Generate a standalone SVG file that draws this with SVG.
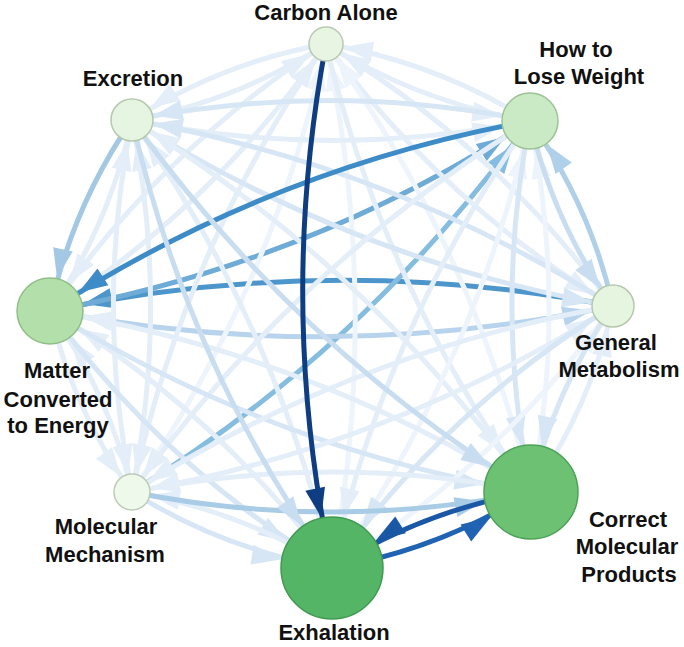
<svg xmlns="http://www.w3.org/2000/svg" xmlns:xlink="http://www.w3.org/1999/xlink" width="684" height="647" viewBox="0 0 684 647">
<style>
.e path{fill:none;stroke-width:5}
.q0 path{stroke:#eef4fb}.q0 use{fill:#eef4fb}
.q1 path{stroke:#e3eef8}.q1 use{fill:#e3eef8}
.q2 path{stroke:#d6e6f4}.q2 use{fill:#d6e6f4}
.q3 path{stroke:#c8ddf0}.q3 use{fill:#c8ddf0}
.cnavy path{stroke:#0f3d82}.cnavy use{fill:#0f3d82}
.cwd path{stroke:#3d8bc7}.cwd use{fill:#3d8bc7}
.ced path{stroke:#4d96cb}.ced use{fill:#4d96cb}
.cdw path{stroke:#6eabd7}.cdw use{fill:#6eabd7}
.cfw path{stroke:#85bde0}.cfw use{fill:#85bde0}
.cbd path{stroke:#a2c8e4}.cbd use{fill:#a2c8e4}
.cew path{stroke:#b0d0ea}.cew use{fill:#b0d0ea}
.cde path{stroke:#b8d4ec}.cde use{fill:#b8d4ec}
.cfh path{stroke:#a8cbe6}.cfh use{fill:#a8cbe6}
.cgh path{stroke:#2063b2}.cgh use{fill:#2063b2}
.chg path{stroke:#1a58a6}.chg use{fill:#1a58a6}
.nd{stroke-width:1.5}
.lb{font-family:"Liberation Sans",Arial,sans-serif;font-weight:bold;font-size:22px;fill:#111;text-anchor:middle}
</style>
<defs>
<polygon id="ah" points="0,0 -29,-10 -29,10"/>
</defs>
<rect width="684" height="647" fill="#ffffff"/>
<g id="connectors">
<g class="e ced"><path d="M613 306 Q331 252.2 50 311"/><use href="#ah" transform="translate(50 311) rotate(168.2) translate(-34 0)"/></g>
<g class="e cdw"><path d="M50 311 Q309 264 530 121"/><use href="#ah" transform="translate(530 121) rotate(-32.9) translate(-29 0)"/></g>
<g class="e cfw"><path d="M132 492 Q368.1 346.3 530 121"/><use href="#ah" transform="translate(530 121) rotate(-54.3) translate(-29 0)"/></g>
<g class="e cde"><path d="M50 311 Q332 364.8 613 306"/><use href="#ah" transform="translate(613 306) rotate(-11.8) translate(-22 0)"/></g>

<g class="e q1"><path d="M326 44 Q221.4 62.6 132 120"/><use href="#ah" transform="translate(132 120) rotate(147.3) translate(-22 0)"/></g>
<g class="e q1"><path d="M132 120 Q236.6 101.4 326 44"/><use href="#ah" transform="translate(326 44) rotate(-32.7) translate(-18 0)"/></g>
<g class="e q1"><path d="M326 44 Q420.3 102.9 530 121"/><use href="#ah" transform="translate(530 121) rotate(9.4) translate(-29 0)"/></g>
<g class="e q1"><path d="M530 121 Q435.7 62.1 326 44"/><use href="#ah" transform="translate(326 44) rotate(189.4) translate(-18 0)"/></g>
<g class="e q1"><path d="M326 44 Q161.3 149.9 50 311"/><use href="#ah" transform="translate(50 311) rotate(124.6) translate(-34 0)"/></g>
<g class="e q1"><path d="M50 311 Q214.7 205.1 326 44"/><use href="#ah" transform="translate(326 44) rotate(-55.4) translate(-18 0)"/></g>
<g class="e q1"><path d="M326 44 Q443.3 203.7 613 306"/><use href="#ah" transform="translate(613 306) rotate(31.1) translate(-22 0)"/></g>
<g class="e q1"><path d="M613 306 Q495.7 146.3 326 44"/><use href="#ah" transform="translate(326 44) rotate(211.1) translate(-18 0)"/></g>
<g class="e q1"><path d="M326 44 Q184.2 248.6 132 492"/><use href="#ah" transform="translate(132 492) rotate(102.1) translate(-19 0)"/></g>
<g class="e q0"><path d="M132 492 Q273.8 287.4 326 44"/><use href="#ah" transform="translate(326 44) rotate(-77.9) translate(-18 0)"/></g>
<g class="e q0"><path d="M332 568 Q381.4 305.4 326 44"/><use href="#ah" transform="translate(326 44) rotate(-102) translate(-18 0)"/></g>
<g class="e q1"><path d="M326 44 Q383.7 288.5 531 492"/><use href="#ah" transform="translate(531 492) rotate(54.1) translate(-48 0)"/></g>
<g class="e q0"><path d="M531 492 Q473.3 247.5 326 44"/><use href="#ah" transform="translate(326 44) rotate(234.1) translate(-18 0)"/></g>
<g class="e q1"><path d="M132 120 Q330.9 160.3 530 121"/><use href="#ah" transform="translate(530 121) rotate(-11.2) translate(-29 0)"/></g>
<g class="e q2"><path d="M530 121 Q331.1 80.7 132 120"/><use href="#ah" transform="translate(132 120) rotate(168.8) translate(-22 0)"/></g>
<g class="e q1"><path d="M50 311 Q110.1 223.7 132 120"/><use href="#ah" transform="translate(132 120) rotate(-78.1) translate(-22 0)"/></g>
<g class="e q2"><path d="M132 120 Q353.9 261.1 613 306"/><use href="#ah" transform="translate(613 306) rotate(9.8) translate(-22 0)"/></g>
<g class="e q2"><path d="M613 306 Q391.1 164.9 132 120"/><use href="#ah" transform="translate(132 120) rotate(189.8) translate(-22 0)"/></g>
<g class="e q1"><path d="M132 120 Q94.8 306 132 492"/><use href="#ah" transform="translate(132 492) rotate(78.7) translate(-19 0)"/></g>
<g class="e q1"><path d="M132 492 Q169.2 306 132 120"/><use href="#ah" transform="translate(132 120) rotate(-101.3) translate(-22 0)"/></g>
<g class="e q1"><path d="M332 568 Q276.8 324 132 120"/><use href="#ah" transform="translate(132 120) rotate(234.6) translate(-22 0)"/></g>
<g class="e q1"><path d="M531 492 Q368.7 266.1 132 120"/><use href="#ah" transform="translate(132 120) rotate(211.7) translate(-22 0)"/></g>
<g class="e q1"><path d="M530 121 Q293.9 266.7 132 492"/><use href="#ah" transform="translate(132 492) rotate(125.7) translate(-19 0)"/></g>
<g class="e q1"><path d="M530 121 Q386.3 324.7 332 568"/><use href="#ah" transform="translate(332 568) rotate(102.6) translate(-52 0)"/></g>
<g class="e q0"><path d="M332 568 Q475.7 364.3 530 121"/><use href="#ah" transform="translate(530 121) rotate(-77.4) translate(-29 0)"/></g>
<g class="e q2"><path d="M530 121 Q493.4 306.6 531 492"/><use href="#ah" transform="translate(531 492) rotate(78.5) translate(-48 0)"/></g>
<g class="e q0"><path d="M531 492 Q567.6 306.4 530 121"/><use href="#ah" transform="translate(530 121) rotate(-101.5) translate(-29 0)"/></g>
<g class="e q1"><path d="M50 311 Q72.9 409.7 132 492"/><use href="#ah" transform="translate(132 492) rotate(54.3) translate(-19 0)"/></g>
<g class="e q1"><path d="M132 492 Q109.1 393.3 50 311"/><use href="#ah" transform="translate(50 311) rotate(234.3) translate(-34 0)"/></g>
<g class="e q2"><path d="M50 311 Q165.3 467.7 332 568"/><use href="#ah" transform="translate(332 568) rotate(31) translate(-52 0)"/></g>
<g class="e q1"><path d="M332 568 Q216.7 411.3 50 311"/><use href="#ah" transform="translate(50 311) rotate(211) translate(-34 0)"/></g>
<g class="e q2"><path d="M50 311 Q272.4 449.6 531 492"/><use href="#ah" transform="translate(531 492) rotate(9.3) translate(-48 0)"/></g>
<g class="e q1"><path d="M531 492 Q308.6 353.4 50 311"/><use href="#ah" transform="translate(50 311) rotate(189.3) translate(-34 0)"/></g>
<g class="e q1"><path d="M613 306 Q353.9 350.9 132 492"/><use href="#ah" transform="translate(132 492) rotate(147.6) translate(-19 0)"/></g>
<g class="e q1"><path d="M132 492 Q391.1 447.1 613 306"/><use href="#ah" transform="translate(613 306) rotate(-32.4) translate(-22 0)"/></g>
<g class="e q2"><path d="M613 306 Q446.3 408.9 332 568"/><use href="#ah" transform="translate(332 568) rotate(125.7) translate(-52 0)"/></g>
<g class="e q0"><path d="M332 568 Q498.7 465.1 613 306"/><use href="#ah" transform="translate(613 306) rotate(-54.3) translate(-22 0)"/></g>
<g class="e q2"><path d="M613 306 Q553.4 390.8 531 492"/><use href="#ah" transform="translate(531 492) rotate(102.5) translate(-48 0)"/></g>
<g class="e q1"><path d="M531 492 Q590.6 407.2 613 306"/><use href="#ah" transform="translate(613 306) rotate(-77.5) translate(-22 0)"/></g>
<g class="e q2"><path d="M132 492 Q224.4 550 332 568"/><use href="#ah" transform="translate(332 568) rotate(9.5) translate(-52 0)"/></g>
<g class="e q1"><path d="M332 568 Q239.6 510 132 492"/><use href="#ah" transform="translate(132 492) rotate(189.5) translate(-19 0)"/></g>
<g class="e q1"><path d="M531 492 Q331.5 452.1 132 492"/><use href="#ah" transform="translate(132 492) rotate(168.7) translate(-19 0)"/></g>

<g class="e cwd"><path d="M530 121 Q271 168 50 311"/><use href="#ah" transform="translate(50 311) rotate(147.1) translate(-34 0)"/></g>
<g class="e cbd"><path d="M132 120 Q71.9 207.3 50 311"/><use href="#ah" transform="translate(50 311) rotate(101.9) translate(-34 0)"/></g>
<g class="e cew"><path d="M613 306 Q590 205.2 530 121"/><use href="#ah" transform="translate(530 121) rotate(234.5) translate(-29 0)"/></g>
<g class="e q3"><path d="M530 121 Q553 221.8 613 306"/><use href="#ah" transform="translate(613 306) rotate(54.5) translate(-22 0)"/></g>
<g class="e cfh"><path d="M132 492 Q331.5 531.9 531 492"/><use href="#ah" transform="translate(531 492) rotate(-11.3) translate(-48 0)"/></g>
<g class="e q3"><path d="M132 120 Q294.3 345.9 531 492"/><use href="#ah" transform="translate(531 492) rotate(31.7) translate(-48 0)"/></g>
<g class="e q3"><path d="M132 120 Q187.2 364 332 568"/><use href="#ah" transform="translate(332 568) rotate(54.6) translate(-52 0)"/></g>
<g class="e cnavy"><path d="M326 44 Q276.6 306.6 332 568"/><use href="#ah" transform="translate(332 568) rotate(78) translate(-52 0)"/></g>
<g class="e cgh"><path d="M332 568 Q439.1 549.9 531 492"/><use href="#ah" transform="translate(531 492) rotate(-32.2) translate(-48 0)"/></g>
<g class="e chg"><path d="M531 492 Q423.9 510.1 332 568"/><use href="#ah" transform="translate(332 568) rotate(147.8) translate(-52 0)"/></g>
</g>
<g id="node-carbon-alone"><circle class="nd" cx="326" cy="44" r="17" fill="#e8f5e3" stroke="#b8cab2"/><text class="lb" x="326" y="20">Carbon Alone</text></g>
<g id="node-excretion"><circle class="nd" cx="132" cy="120" r="21" fill="#e6f5e1" stroke="#b5c9ae"/><text class="lb" x="133" y="86">Excretion</text></g>
<g id="node-how-to-lose-weight"><circle class="nd" cx="530" cy="121" r="28" fill="#c9eac4" stroke="#9cc395"/><text class="lb" x="576" y="57">How to</text><text class="lb" x="579" y="84">Lose Weight</text></g>
<g id="node-matter-converted"><circle class="nd" cx="50" cy="311" r="33" fill="#b3e0aa" stroke="#8fbf87"/><text class="lb" x="57" y="378">Matter</text><text class="lb" x="58" y="407">Converted</text><text class="lb" x="58" y="433">to Energy</text></g>
<g id="node-general-metabolism"><circle class="nd" cx="613" cy="306" r="21" fill="#e6f5e0" stroke="#b5c9ae"/><text class="lb" x="616" y="350">General</text><text class="lb" x="619" y="377">Metabolism</text></g>
<g id="node-molecular-mechanism"><circle class="nd" cx="132" cy="492" r="18" fill="#eef8eb" stroke="#bccbb7"/><text class="lb" x="106" y="534">Molecular</text><text class="lb" x="105" y="562">Mechanism</text></g>
<g id="node-exhalation"><circle class="nd" cx="332" cy="568" r="51" fill="#55b566" stroke="#3f9a4f"/><text class="lb" x="334" y="640">Exhalation</text></g>
<g id="node-correct-molecular-products"><circle class="nd" cx="531" cy="492" r="47" fill="#6cc173" stroke="#4ea257"/><text class="lb" x="628" y="527">Correct</text><text class="lb" x="627" y="554">Molecular</text><text class="lb" x="629" y="582">Products</text></g>
</svg>
